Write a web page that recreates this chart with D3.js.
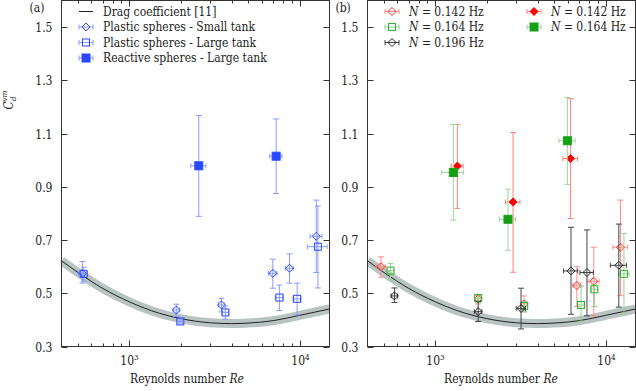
<!DOCTYPE html>
<html>
<head>
<meta charset="utf-8">
<script src="https://cdn.jsdelivr.net/npm/d3@7"></script>
<style>
  body { margin: 0; background: #fff; }
  svg { display: block; }
</style>
</head>
<body>
<div id="chart"></div>
<script>
// drag coefficient curve
const dragRe = [400, 500, 700, 1000, 1500, 2000, 3000, 4000, 5000, 7000, 10000, 15000];
const dragCd = [0.622, 0.578, 0.518, 0.468, 0.425, 0.405, 0.389, 0.386, 0.388, 0.397, 0.417, 0.441];

// panel (a)
const smallRe = [531, 1890, 3480, 6970, 8730, 12540];
const smallCd = [0.575, 0.437, 0.456, 0.575, 0.594, 0.714];
const smallLo = [0.538, 0.413, 0.430, 0.519, 0.538, 0.578];
const smallHi = [0.619, 0.459, 0.481, 0.628, 0.648, 0.850];
const smallReErr = [27, 80, 140, 390, 450, 1000];

const largeRe = [540, 1995, 3670, 7620, 9680, 12820];
const largeCd = [0.573, 0.394, 0.428, 0.484, 0.479, 0.675];
const largeLo = [0.545, 0.385, 0.403, 0.435, 0.419, 0.520];
const largeHi = [0.598, 0.405, 0.452, 0.531, 0.538, 0.828];
const largeReErr = [25, 60, 150, 420, 530, 1700];

const reactRe = [2560, 7290];
const reactCd = [0.979, 1.015];
const reactLo = [0.789, 0.875];
const reactHi = [1.168, 1.155];
const reactReErr = [260, 600];

// panel (b)
const n142Re = [480, 1787, 3323, 6790, 8530, 12240];
const n142Cd = [0.600, 0.479, 0.460, 0.529, 0.545, 0.673];
const n142Lo = [0.560, 0.460, 0.430, 0.450, 0.415, 0.491];
const n142Hi = [0.637, 0.492, 0.490, 0.600, 0.673, 0.850];
const n142ReErr = [30, 80, 150, 350, 650, 1200];

const n164Re = [546, 1787, 3330, 7180, 8600, 12830];
const n164Cd = [0.585, 0.482, 0.452, 0.456, 0.515, 0.573];
const n164Lo = [0.550, 0.465, 0.430, 0.394, 0.450, 0.421];
const n164Hi = [0.612, 0.495, 0.470, 0.527, 0.531, 0.725];
const n164ReErr = [25, 80, 150, 300, 350, 900];

const n196Re = [576, 1787, 3190, 6270, 7780, 11970];
const n196Cd = [0.490, 0.431, 0.443, 0.584, 0.578, 0.605];
const n196Lo = [0.465, 0.394, 0.366, 0.421, 0.415, 0.448];
const n196Hi = [0.520, 0.470, 0.519, 0.748, 0.738, 0.760];
const n196ReErr = [25, 90, 200, 600, 700, 1300];

const r142Re = [1349, 2864, 6235];
const r142Cd = [0.978, 0.843, 1.006];
const r142Lo = [0.819, 0.579, 0.781];
const r142Hi = [1.134, 1.104, 1.231];
const r142ReErr = [110, 280, 620];

const r164Re = [1277, 2673, 5970];
const r164Cd = [0.954, 0.778, 1.073];
const r164Lo = [0.775, 0.662, 0.909];
const r164Hi = [1.134, 0.891, 1.235];
const r164ReErr = [190, 290, 650];

const yTicks = [0.3, 0.5, 0.7, 0.9, 1.1, 1.3, 1.5];

const FONT = "'DejaVu Serif Condensed', 'DejaVu Serif'";

const pts = (re, cd, lo, hi, err) =>
  re.map((r, i) => ({ re: r, cd: cd[i], lo: lo[i], hi: hi[i], err: err[i] }));

const width = 636, height = 391;
const svg = d3.select("#chart").append("svg")
  .attr("width", width).attr("height", height)
  .style("font-family", FONT);

const marginTop = 0.5, marginBottom = 44.5;
const FS = 12;

function panel(left, right, label, series, xLabelX) {
  const x = d3.scaleLog().domain([400, 15000]).range([left, right]);
  const y = d3.scaleLinear().domain([0.3, 1.6]).range([height - marginBottom, marginTop]);
  const g = svg.append("g");
  const clipId = "clip" + label;
  g.append("clipPath").attr("id", clipId)
    .append("rect").attr("x", left).attr("y", marginTop)
    .attr("width", right - left).attr("height", y(0.3) - marginTop);

  // drag curve + uncertainty band
  const dragData = dragRe.map((r, i) => [r, dragCd[i]]);
  const line = d3.line().x(d => x(d[0])).y(d => y(d[1])).curve(d3.curveMonotoneX);
  const cg = g.append("g").attr("clip-path", `url(#${clipId})`);
  cg.append("path").datum(dragData).attr("d", line)
    .attr("fill", "none").attr("stroke", "#b8c4c2").attr("stroke-width", 9);
  cg.append("path").datum(dragData).attr("d", line)
    .attr("fill", "none").attr("stroke", "#222").attr("stroke-width", 1);

  // axes (inward ticks, mirrored)
  const minor = [500, 600, 700, 800, 900, 2000, 3000, 4000, 5000, 6000, 7000, 8000, 9000];
  const majors = [1000, 10000];
  const yb = y(0.3), yt = marginTop;
  const tk = g.append("g").attr("stroke", "#333").attr("stroke-width", 1);
  minor.forEach(v => {
    const xx = Math.round(x(v)) + 0.5;
    tk.append("line").attr("x1", xx).attr("x2", xx).attr("y1", yb).attr("y2", yb - 3);
    tk.append("line").attr("x1", xx).attr("x2", xx).attr("y1", yt).attr("y2", yt + 3);
  });
  majors.forEach(v => {
    const xx = Math.round(x(v)) + 0.5;
    tk.append("line").attr("x1", xx).attr("x2", xx).attr("y1", yb).attr("y2", yb - 6);
    tk.append("line").attr("x1", xx).attr("x2", xx).attr("y1", yt).attr("y2", yt + 6);
    const t = g.append("text").attr("x", xx).attr("y", yb + 18)
      .attr("text-anchor", "middle").attr("font-size", FS).attr("fill", "#222");
    t.append("tspan").text("10");
    t.append("tspan").attr("dy", -5).attr("font-size", 8).text(Math.log10(v));
  });
  yTicks.forEach(v => {
    const yy = Math.round(y(v)) + 0.5;
    tk.append("line").attr("x1", left).attr("x2", left + 6).attr("y1", yy).attr("y2", yy);
    tk.append("line").attr("x1", right).attr("x2", right - 6).attr("y1", yy).attr("y2", yy);
    g.append("text").attr("x", left - 9).attr("y", yy).attr("dy", "0.35em")
      .attr("text-anchor", "end").attr("font-size", FS).attr("fill", "#222")
      .text(d3.format(".1f")(v));
  });
  g.append("rect").attr("x", left).attr("y", marginTop)
    .attr("width", right - left).attr("height", yb - marginTop)
    .attr("fill", "none").attr("stroke", "#333").attr("stroke-width", 1);

  g.append("text").attr("x", left - 32).attr("y", 12).attr("font-size", FS)
    .attr("fill", "#222").text(`(${label})`);

  const xl = g.append("text").attr("x", xLabelX).attr("y", 383)
    .attr("text-anchor", "middle").attr("font-size", FS).attr("fill", "#222");
  xl.append("tspan").text("Reynolds number ");
  xl.append("tspan").attr("font-style", "italic").text("Re");

  // data with error bars
  series.forEach(s => {
    const sg = g.append("g").attr("clip-path", `url(#${clipId})`);
    s.data.forEach(d => {
      const cx = x(d.re), cy = y(d.cd);
      const eb = sg.append("g").attr("stroke", s.err).attr("stroke-width", 1).attr("fill", "none");
      eb.append("line").attr("x1", cx).attr("x2", cx).attr("y1", y(d.lo)).attr("y2", y(d.hi));
      eb.append("line").attr("x1", cx - 3).attr("x2", cx + 3).attr("y1", y(d.lo)).attr("y2", y(d.lo));
      eb.append("line").attr("x1", cx - 3).attr("x2", cx + 3).attr("y1", y(d.hi)).attr("y2", y(d.hi));
      const xa = x(d.re - d.err), xb = x(d.re + d.err);
      eb.append("line").attr("x1", xa).attr("x2", xb).attr("y1", cy).attr("y2", cy);
      eb.append("line").attr("x1", xa).attr("x2", xa).attr("y1", cy - 2.5).attr("y2", cy + 2.5);
      eb.append("line").attr("x1", xb).attr("x2", xb).attr("y1", cy - 2.5).attr("y2", cy + 2.5);
      marker(sg, s, cx, cy);
    });
  });
  return g;
}

function marker(sel, s, cx, cy) {
  if (s.shape === "diamond") {
    const r = 4;
    sel.append("path")
      .attr("d", `M${cx},${cy - r}L${cx + r},${cy}L${cx},${cy + r}L${cx - r},${cy}Z`)
      .attr("fill", s.filled ? s.color : "none").attr("stroke", s.color).attr("stroke-width", 1);
  } else {
    const r = s.filled ? 4 : 3.5;
    sel.append("rect").attr("x", cx - r).attr("y", cy - r)
      .attr("width", 2 * r).attr("height", 2 * r)
      .attr("fill", s.filled ? s.color : "none").attr("stroke", s.color).attr("stroke-width", 1);
  }
}

function legendRow(g, s, x0, yy, textFn) {
  const eb = g.append("g").attr("stroke", s.err).attr("stroke-width", 1);
  eb.append("line").attr("x1", x0).attr("x2", x0 + 14).attr("y1", yy).attr("y2", yy);
  eb.append("line").attr("x1", x0).attr("x2", x0).attr("y1", yy - 2.5).attr("y2", yy + 2.5);
  eb.append("line").attr("x1", x0 + 14).attr("x2", x0 + 14).attr("y1", yy - 2.5).attr("y2", yy + 2.5);
  marker(g, s, x0 + 7, yy);
  const t = g.append("text").attr("x", x0 + 24).attr("y", yy).attr("dy", "0.35em")
    .attr("font-size", FS).attr("fill", "#222");
  textFn(t);
}

const blue = "#2a48ff", blueErr = "#8a9aff";
const seriesA = [
  { data: pts(smallRe, smallCd, smallLo, smallHi, smallReErr), shape: "diamond", filled: false, color: blue, err: blueErr },
  { data: pts(largeRe, largeCd, largeLo, largeHi, largeReErr), shape: "square", filled: false, color: blue, err: blueErr },
  { data: pts(reactRe, reactCd, reactLo, reactHi, reactReErr), shape: "square", filled: true, color: blue, err: blueErr }
];
const sRed = { shape: "diamond", filled: false, color: "#ff2020", err: "#ff8c8c" };
const sGreen = { shape: "square", filled: false, color: "#30b030", err: "#8fd48f" };
const sBlack = { shape: "diamond", filled: false, color: "#222", err: "#444" };
const sRedF = { shape: "diamond", filled: true, color: "#ff0000", err: "#ff8080" };
const sGreenF = { shape: "square", filled: true, color: "#16a016", err: "#9ad89a" };
const seriesB = [
  Object.assign({ data: pts(n142Re, n142Cd, n142Lo, n142Hi, n142ReErr) }, sRed),
  Object.assign({ data: pts(n164Re, n164Cd, n164Lo, n164Hi, n164ReErr) }, sGreen),
  Object.assign({ data: pts(n196Re, n196Cd, n196Lo, n196Hi, n196ReErr) }, sBlack),
  Object.assign({ data: pts(r142Re, r142Cd, r142Lo, r142Hi, r142ReErr) }, sRedF),
  Object.assign({ data: pts(r164Re, r164Cd, r164Lo, r164Hi, r164ReErr) }, sGreenF)
];

const ga = panel(61.5, 329.5, "a", seriesA, 187);
const gb = panel(367.5, 635.5, "b", seriesB, 501);

// legend (a)
const la = ga.append("g");
la.append("line").attr("x1", 79).attr("x2", 93).attr("y1", 11.5).attr("y2", 11.5)
  .attr("stroke", "#222").attr("stroke-width", 1);
la.append("text").attr("x", 103).attr("y", 11.5).attr("dy", "0.35em")
  .attr("font-size", FS).attr("fill", "#222").text("Drag coefficient [11]");
const namesA = ["Plastic spheres - Small tank", "Plastic spheres - Large tank", "Reactive spheres - Large tank"];
seriesA.forEach((s, i) => legendRow(la, s, 79, 27 + i * 15.5, t => t.text(namesA[i])));

// legend (b)
const hz = f => t => {
  t.append("tspan").attr("font-style", "italic").text("N");
  t.append("tspan").text(` = ${f} Hz`);
};
const lb = gb.append("g");
legendRow(lb, sRed, 385, 11.5, hz("0.142"));
legendRow(lb, sGreen, 385, 27, hz("0.164"));
legendRow(lb, sBlack, 385, 42.5, hz("0.196"));
legendRow(lb, sRedF, 527, 11.5, hz("0.142"));
legendRow(lb, sGreenF, 527, 27, hz("0.164"));

// y label
const yl = svg.append("text").attr("transform", "translate(13,100) rotate(-90)")
  .attr("text-anchor", "middle").attr("font-size", FS).attr("fill", "#222");
yl.append("tspan").attr("font-style", "italic").text("C");
yl.append("tspan").attr("dy", 3).attr("font-size", 8).attr("font-style", "italic").text("d");
yl.append("tspan").attr("dy", -9).attr("dx", -5).attr("font-size", 8).attr("font-style", "italic").text("vm");
</script>
</body>
</html>
